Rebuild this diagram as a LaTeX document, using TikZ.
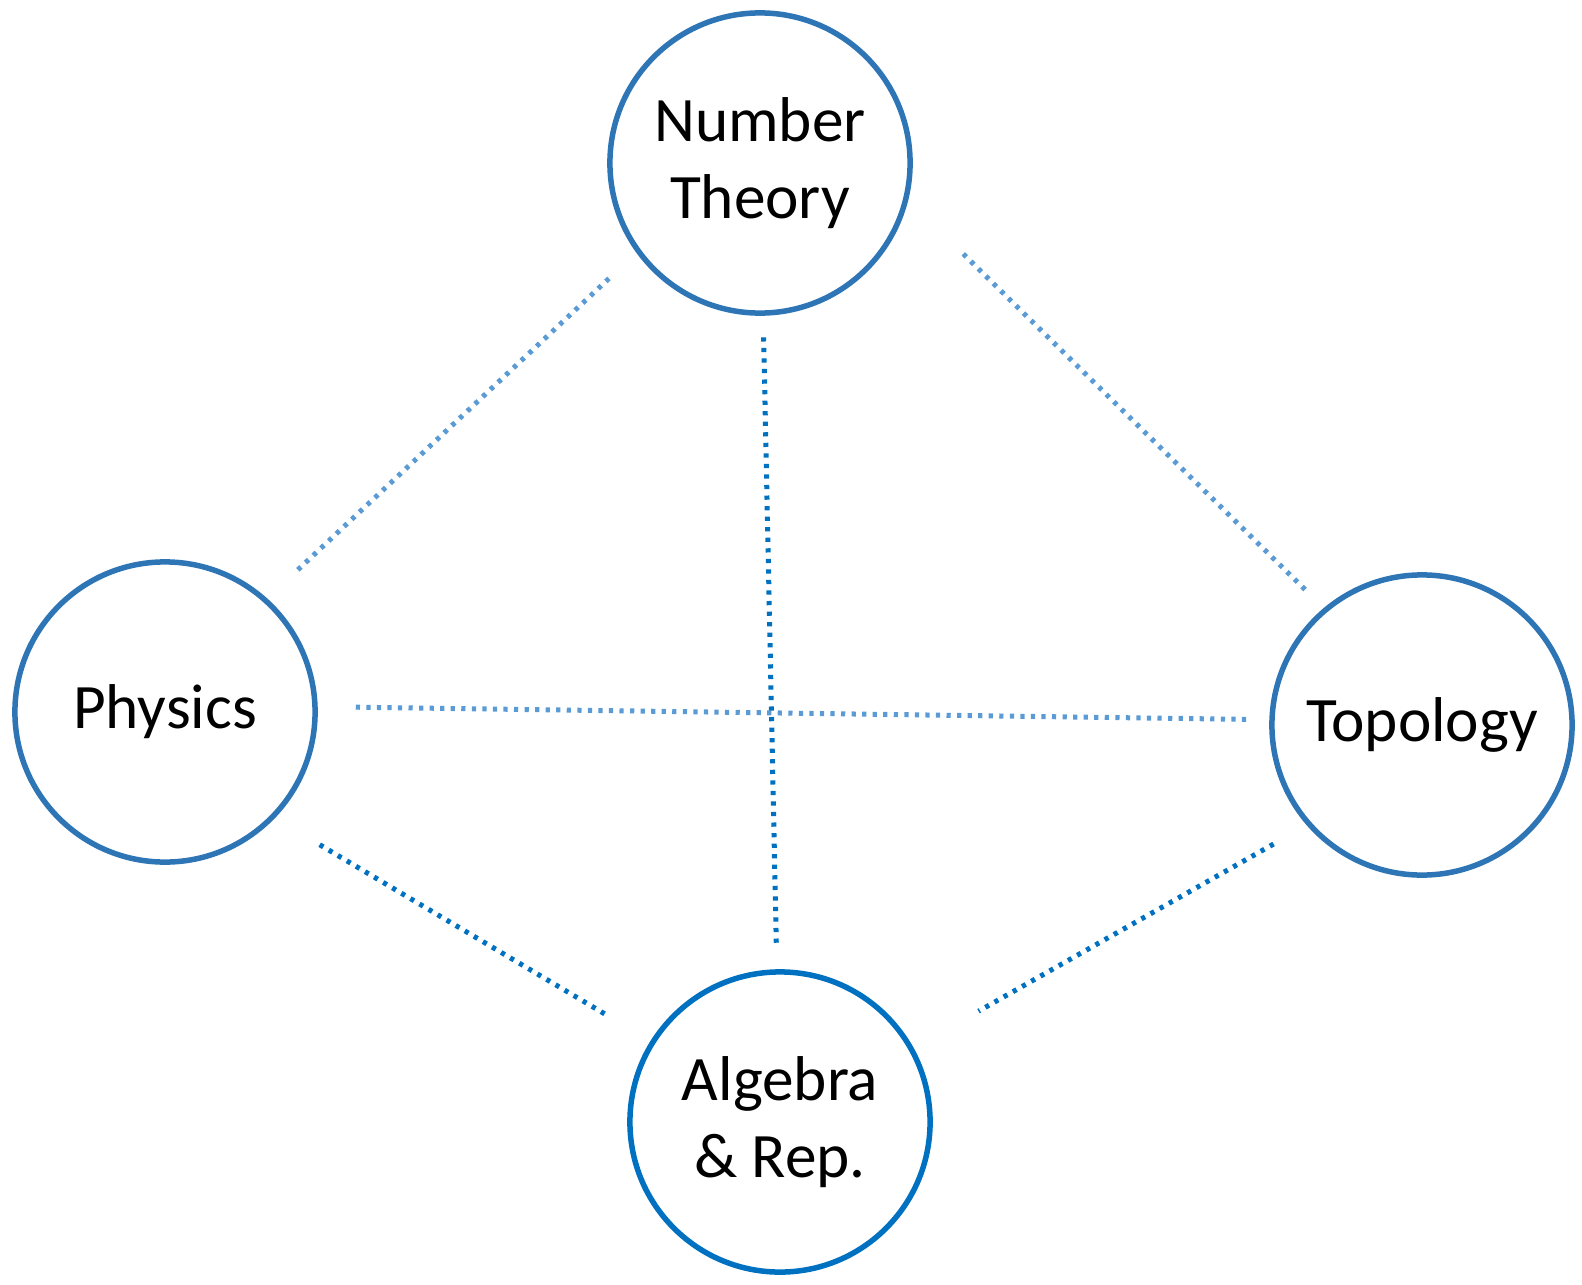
\documentclass[tikz,border=0pt]{standalone}
\usepackage{fontspec}
\setmainfont{Carlito}
\usepackage{tikz}

\definecolor{ringblue}{HTML}{2E75B6}
\definecolor{deepblue}{HTML}{0070C0}
\definecolor{paleblue}{HTML}{5B9BD5}

\tikzset{
	field/.style={circle, draw=ringblue, line width=0.055cm, minimum size=3cm,
		align=center, font=\fontsize{18}{22}\selectfont},
	link/.style={paleblue, line width=0.05cm, dash pattern=on 1.2pt off 1.8pt},
	tie/.style={link, deepblue}
}

\begin{document}
\begin{tikzpicture}[x=0.01cm, y=-0.01cm]
		\useasboundingbox (0,0) rectangle (1582,1285);
		\node[field] (nt) at (760,163) {Number\\Theory};
		\node[field] (phys) at (165,712) {Physics};
		\node[field] (topo) at (1422,725) {Topology};
		\node[field, draw=deepblue] (alg) at (780,1122) {Algebra\\\& Rep.};
		\path
		(nt.216) edge[link, shorten <=0.375cm, shorten >=0.38cm] (phys.48)
		(nt.346) edge[link, shorten <=0.77cm, shorten >=0.23cm] (topo.130)
		(phys.2) edge[link, shorten <=0.38cm, shorten >=0.2cm] (topo.178)
		(nt) edge[tie, shorten <=0.215cm, shorten >=0.215cm] (alg)
		(phys.316) edge[tie, shorten <=0.52cm, shorten >=0.47cm] (alg.148)
		(topo.221) edge[tie, shorten <=0.38cm, shorten >=0.745cm] (alg.29);
	\end{tikzpicture}
\end{document}
